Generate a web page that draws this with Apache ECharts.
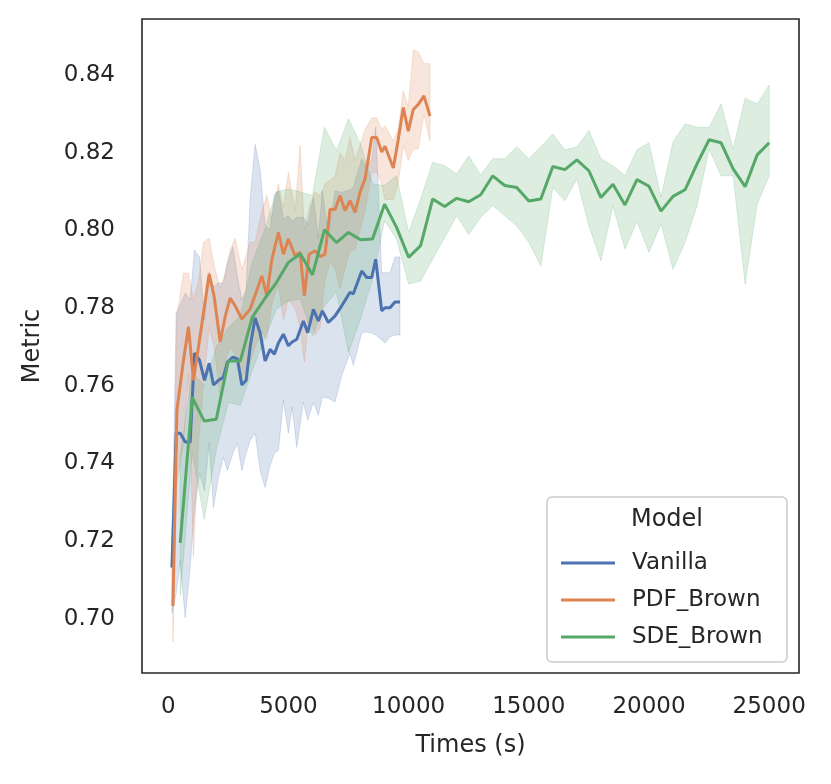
<!DOCTYPE html>
<html>
<head>
<meta charset="utf-8">
<script src="https://cdn.jsdelivr.net/npm/echarts@6/dist/echarts.min.js"></script>
<style>
  html, body { margin: 0; padding: 0; background: #fff; }
  #main { width: 831px; height: 784px; }
</style>
</head>
<body>
<div id="main"></div>
<script>
// Vanilla
var vanillaTime = [154, 332, 499, 707, 914, 1093, 1301, 1509, 1704, 1883, 2090, 2298, 2464, 2689, 2880, 3063, 3242, 3408, 3616, 3823, 4031, 4239, 4418, 4584, 4792, 5000, 5153, 5349, 5623, 5806, 6039, 6246, 6413, 6662, 6941, 7219, 7564, 7701, 8050, 8258, 8466, 8632, 8881, 9019, 9226, 9434, 9642];
var vanillaMean = [0.7132, 0.7478, 0.7478, 0.7455, 0.7455, 0.7684, 0.7666, 0.7614, 0.7658, 0.7602, 0.7614, 0.7622, 0.7661, 0.7674, 0.7669, 0.7602, 0.7614, 0.7700, 0.7775, 0.7736, 0.7664, 0.7694, 0.7681, 0.7710, 0.7733, 0.7703, 0.7713, 0.7720, 0.7767, 0.7737, 0.7797, 0.7767, 0.7793, 0.7763, 0.7780, 0.7806, 0.7841, 0.7837, 0.7896, 0.7879, 0.7879, 0.7926, 0.7793, 0.7801, 0.7801, 0.7816, 0.7816];
var vanillaHigh = [0.7167, 0.7788, 0.7808, 0.7839, 0.7821, 0.7950, 0.7932, 0.7770, 0.7894, 0.7855, 0.7865, 0.7865, 0.7917, 0.7958, 0.7880, 0.7821, 0.7847, 0.8080, 0.8222, 0.8159, 0.8012, 0.8002, 0.8093, 0.8102, 0.8030, 0.8038, 0.8023, 0.8034, 0.8034, 0.8015, 0.8086, 0.7982, 0.8102, 0.7987, 0.8102, 0.8098, 0.8105, 0.8111, 0.8184, 0.8165, 0.8183, 0.8266, 0.7891, 0.7891, 0.7891, 0.7932, 0.7932];
var vanillaLow = [0.7015, 0.7064, 0.7149, 0.7002, 0.7134, 0.7279, 0.7374, 0.7330, 0.7452, 0.7286, 0.7364, 0.7416, 0.7382, 0.7426, 0.7452, 0.7382, 0.7426, 0.7459, 0.7478, 0.7382, 0.7338, 0.7395, 0.7426, 0.7434, 0.7563, 0.7478, 0.7545, 0.7441, 0.7558, 0.7511, 0.7558, 0.7524, 0.7571, 0.7568, 0.7558, 0.7627, 0.7684, 0.7653, 0.7736, 0.7739, 0.7736, 0.7731, 0.7718, 0.7710, 0.7726, 0.7731, 0.7731];

// PDF_Brown
var pdfTime = [195, 362, 636, 844, 1051, 1259, 1467, 1704, 1912, 2161, 2369, 2577, 2785, 3063, 3408, 3616, 3894, 4102, 4310, 4584, 4792, 5000, 5278, 5486, 5665, 5860, 6109, 6317, 6525, 6733, 6941, 7148, 7356, 7564, 7772, 7980, 8187, 8466, 8674, 8881, 9019, 9364, 9571, 9779, 9987, 10195, 10403, 10639, 10889];
var pdfMean = [0.7033, 0.7537, 0.7666, 0.7752, 0.7614, 0.7700, 0.7787, 0.7888, 0.7830, 0.7713, 0.7778, 0.7826, 0.7806, 0.7772, 0.7797, 0.7834, 0.7883, 0.7832, 0.7925, 0.7995, 0.7939, 0.7978, 0.7935, 0.7944, 0.7832, 0.7939, 0.7948, 0.7933, 0.7939, 0.8055, 0.8054, 0.8090, 0.8051, 0.8077, 0.8047, 0.8099, 0.8133, 0.8240, 0.8240, 0.8202, 0.8217, 0.8161, 0.8235, 0.8317, 0.8256, 0.8312, 0.8325, 0.8347, 0.8295];
var pdfHigh = [0.714, 0.778, 0.789, 0.789, 0.782, 0.787, 0.797, 0.798, 0.791, 0.785, 0.789, 0.795, 0.798, 0.790, 0.797, 0.797, 0.805, 0.809, 0.803, 0.812, 0.806, 0.815, 0.805, 0.822, 0.800, 0.806, 0.810, 0.809, 0.812, 0.813, 0.814, 0.820, 0.818, 0.824, 0.818, 0.822, 0.826, 0.829, 0.829, 0.826, 0.827, 0.823, 0.826, 0.836, 0.832, 0.8465, 0.846, 0.843, 0.843];
var pdfLow = [0.694, 0.735, 0.745, 0.763, 0.716, 0.745, 0.760, 0.775, 0.770, 0.757, 0.766, 0.770, 0.768, 0.762, 0.766, 0.770, 0.774, 0.772, 0.781, 0.786, 0.777, 0.782, 0.780, 0.775, 0.766, 0.778, 0.773, 0.775, 0.787, 0.792, 0.790, 0.785, 0.790, 0.795, 0.795, 0.800, 0.805, 0.815, 0.815, 0.812, 0.808, 0.808, 0.812, 0.822, 0.818, 0.821, 0.821, 0.830, 0.823];

// SDE_Brown (every 500 s)
var sdeTime = [500, 1000, 1500, 2000, 2500, 3000, 3500, 4000, 4500, 5000, 5500, 6000, 6500, 7000, 7500, 8000, 8500, 9000, 9500, 10000, 10500, 11000, 11500, 12000, 12500, 13000, 13500, 14000, 14500, 15000, 15500, 16000, 16500, 17000, 17500, 18000, 18500, 19000, 19500, 20000, 20500, 21000, 21500, 22000, 22500, 23000, 23500, 24000, 24500, 25000];
var sdeMean = [0.7195, 0.7570, 0.7509, 0.7514, 0.7664, 0.7664, 0.7777, 0.7823, 0.7866, 0.7918, 0.7940, 0.7886, 0.8002, 0.7969, 0.7995, 0.7976, 0.7978, 0.8068, 0.8008, 0.7931, 0.7961, 0.8081, 0.8062, 0.8083, 0.8074, 0.8092, 0.8141, 0.8116, 0.8111, 0.8076, 0.8081, 0.8165, 0.8157, 0.8182, 0.8154, 0.8085, 0.8119, 0.8066, 0.8131, 0.8114, 0.8050, 0.8088, 0.8105, 0.8172, 0.8234, 0.8226, 0.8159, 0.8113, 0.8195, 0.8226];
var sdeHigh = [0.742, 0.7635, 0.760, 0.770, 0.775, 0.778, 0.7918, 0.800, 0.810, 0.8107, 0.8099, 0.809, 0.8266, 0.8206, 0.8288, 0.8223, 0.812, 0.8116, 0.8141, 0.7995, 0.8081, 0.8176, 0.8167, 0.8146, 0.8192, 0.8143, 0.8185, 0.8185, 0.8216, 0.8185, 0.8216, 0.8249, 0.8208, 0.8215, 0.8258, 0.8185, 0.8167, 0.8141, 0.8208, 0.8226, 0.8086, 0.8228, 0.8275, 0.8266, 0.8266, 0.8326, 0.8210, 0.8341, 0.8326, 0.8375];
var sdeLow = [0.706, 0.7428, 0.7256, 0.7435, 0.7557, 0.755, 0.764, 0.772, 0.7797, 0.7819, 0.7823, 0.7729, 0.7806, 0.7841, 0.7686, 0.7772, 0.7875, 0.8025, 0.7978, 0.7862, 0.787, 0.7926, 0.7982, 0.8038, 0.799, 0.8034, 0.8064, 0.8038, 0.8012, 0.797, 0.7909, 0.8111, 0.8077, 0.8133, 0.8012, 0.7922, 0.8064, 0.7952, 0.8023, 0.7944, 0.8017, 0.790, 0.797, 0.8064, 0.821, 0.8141, 0.8141, 0.7862, 0.8068, 0.8141];

var xTicks = [0, 5000, 10000, 15000, 20000, 25000];
var yTicks = [0.70, 0.72, 0.74, 0.76, 0.78, 0.80, 0.82, 0.84];

var colors = ['#4c72b0', '#dd8452', '#55a868'];
var font = 'DejaVu Sans';

function pairs(xs, ys) {
    return xs.map(function (x, i) { return [x, ys[i]]; });
}

// ci band drawn as one polygon from the library's coords
function band(name, xs, lo, hi, color) {
    return {
        name: name,
        type: 'custom',
        z: 1,
        silent: true,
        data: xs.map(function (x, i) { return [x, lo[i], hi[i]]; }),
        encode: { x: 0, y: [1, 2] },
        renderItem: function (params, api) {
            if (params.dataIndex !== 0) return;
            var pts = [];
            for (var i = 0; i < xs.length; i++) pts.push(api.coord([xs[i], hi[i]]));
            for (var j = xs.length - 1; j >= 0; j--) pts.push(api.coord([xs[j], lo[j]]));
            return {
                type: 'polygon',
                shape: { points: pts },
                style: { fill: color, opacity: 0.2, stroke: color, lineWidth: 1 }
            };
        }
    };
}

function line(name, xs, ys, color) {
    return {
        name: name,
        type: 'line',
        z: 2,
        data: pairs(xs, ys),
        showSymbol: false,
        symbol: 'none',
        color: color,
        lineStyle: { color: color, width: 3 }
    };
}

var myChart = echarts.init(document.getElementById('main'));
var option = {
    animation: false,
    backgroundColor: '#fff',
    grid: {
        left: 142, right: 32, top: 19, bottom: 111,
        show: true, borderColor: '#262626', borderWidth: 1.6
    },
    xAxis: {
        type: 'value',
        min: -1090, max: 26240,
        name: 'Times (s)',
        nameLocation: 'middle',
        nameGap: 61,
        nameTextStyle: { fontFamily: font, fontSize: 24, color: '#262626' },
        axisLine: { show: false },
        axisTick: { show: false },
        splitLine: { show: false },
        axisLabel: {
            customValues: xTicks,
            margin: 23,
            fontFamily: font, fontSize: 23, color: '#262626',
            formatter: function (v) { return String(v); }
        }
    },
    yAxis: {
        type: 'value',
        min: 0.686, max: 0.8545,
        name: 'Metric',
        nameLocation: 'middle',
        nameGap: 97,
        nameTextStyle: { fontFamily: font, fontSize: 24, color: '#262626' },
        axisLine: { show: false },
        axisTick: { show: false },
        splitLine: { show: false },
        axisLabel: {
            customValues: yTicks,
            margin: 27,
            fontFamily: font, fontSize: 23, color: '#262626',
            formatter: function (v) { return v.toFixed(2); }
        }
    },
    legend: {
        z: 100,
        data: ['Vanilla', 'PDF_Brown', 'SDE_Brown'],
        orient: 'vertical',
        left: 556, top: 545,
        icon: 'rect',
        itemWidth: 54, itemHeight: 3,
        itemGap: 11,
        textStyle: { fontFamily: font, fontSize: 23, color: '#262626', lineHeight: 26, padding: [0, 0, 0, 12] }
    },
    graphic: [
        {
            type: 'rect', z: 50,
            shape: { x: 547, y: 497, width: 240, height: 165, r: 5 },
            style: { fill: 'rgba(255,255,255,0.8)', stroke: '#cccccc', lineWidth: 1.5 }
        },
        {
            type: 'text', z: 51,
            style: { x: 667, y: 520, text: 'Model', fontFamily: font, fontSize: 24, fill: '#262626', textAlign: 'center', textVerticalAlign: 'middle' }
        }
    ],
    series: [
        band('Vanilla band', vanillaTime, vanillaLow, vanillaHigh, colors[0]),
        band('PDF_Brown band', pdfTime, pdfLow, pdfHigh, colors[1]),
        band('SDE_Brown band', sdeTime, sdeLow, sdeHigh, colors[2]),
        line('Vanilla', vanillaTime, vanillaMean, colors[0]),
        line('PDF_Brown', pdfTime, pdfMean, colors[1]),
        line('SDE_Brown', sdeTime, sdeMean, colors[2])
    ]
};
myChart.setOption(option);
</script>
</body>
</html>
